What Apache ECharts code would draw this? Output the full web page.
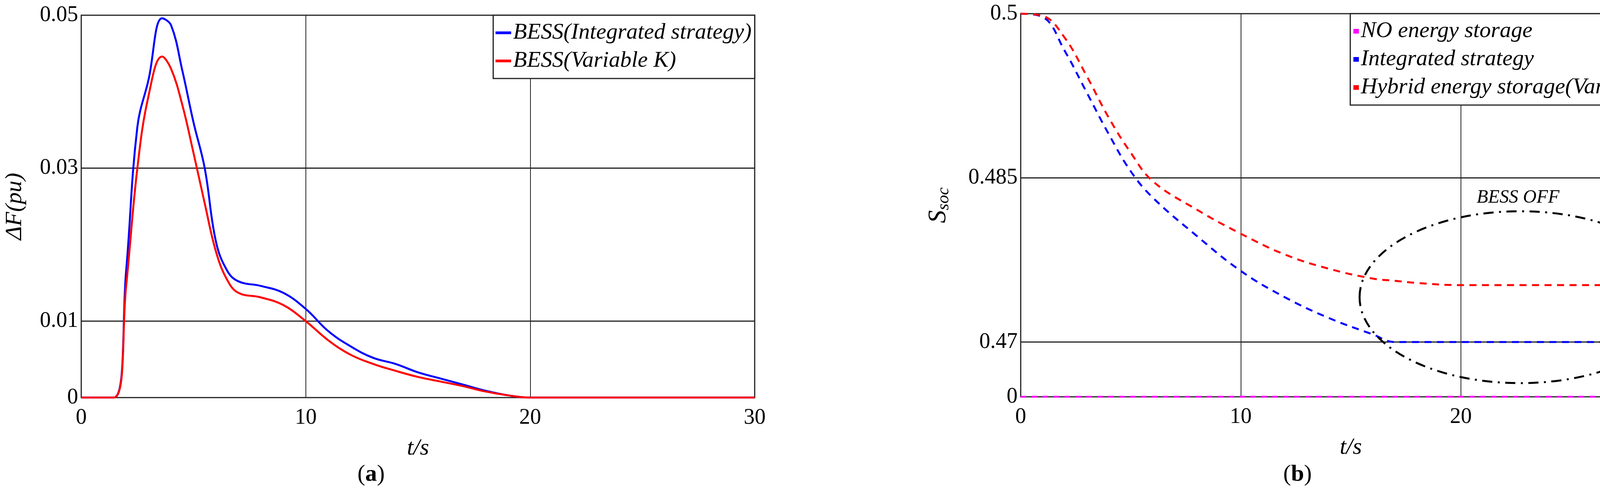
<!DOCTYPE html>
<html>
<head>
<meta charset="utf-8">
<title>BESS</title>
<script src="https://cdn.jsdelivr.net/npm/echarts@6/dist/echarts.min.js"></script>
<style>html,body{margin:0;background:#fff}#main{width:4336px;height:1270px}</style>
</head>
<body>
<div id="main"></div>
<script>
// panel (a): frequency deviation
var tA = [0, 1.45, 2, 2.5, 3, 3.6, 4, 4.5, 5, 5.5, 6, 6.5, 7, 8, 9, 10, 11, 12, 13, 14, 15, 16, 17, 18, 19, 20, 30];
var blueA = [0, 0, 0.0166, 0.0354, 0.0416, 0.0496, 0.0487, 0.0428, 0.036, 0.030, 0.0204, 0.0166, 0.0152, 0.0146, 0.0137, 0.0116, 0.0087, 0.0067, 0.0052, 0.0044, 0.0033, 0.0025, 0.0017, 0.0009, 0.0003, 0, 0];
var redA = [0, 0, 0.0146, 0.030, 0.0395, 0.0446, 0.0430, 0.0383, 0.032, 0.0254, 0.0191, 0.0154, 0.0137, 0.0131, 0.0121, 0.0100, 0.0075, 0.0056, 0.0044, 0.0035, 0.0027, 0.0021, 0.0015, 0.0008, 0.0003, 0, 0];
var yTicksA = [0, 0.01, 0.03, 0.05];
var gridA = [0.01, 0.03];

// panel (b): state of charge
var tB = [0, 1, 2, 3, 4, 5, 6, 8, 10, 12, 14, 16, 17, 18, 20, 30];
var blueB = [0.5, 0.4997, 0.4966, 0.4928, 0.489, 0.4856, 0.4832, 0.4797, 0.4765, 0.4741, 0.4722, 0.4707, 0.47, 0.47, 0.47, 0.47];
var redB = [0.5, 0.4998, 0.4978, 0.4943, 0.4905, 0.4873, 0.4847, 0.4821, 0.4799, 0.478, 0.4767, 0.4758, 0.4756, 0.4754, 0.4752, 0.4752];
var noStorB = [0, 0, 0, 0, 0, 0, 0, 0, 0, 0, 0, 0, 0, 0, 0, 0];
var yTicksB = [0.465, 0.47, 0.485, 0.5];
var gridB = [0.47, 0.485];
var zeroPosB = 0.465; // broken axis: "0" is drawn here
var ellipseB = [22.7, 0.4741, 7.3, 0.00785]; // cx, cy, rx, ry
var noteB = [22.6, 0.4832, 'BESS OFF'];

function pairs(xs, ys, map) {
  return xs.map(function (x, i) { return [x, map ? map(ys[i]) : ys[i]]; });
}
var serif = 'Liberation Serif';

// horizontal grid lines drawn through the axis scale
function gridSeries(idx, vals) {
  return {
    type: 'custom', xAxisIndex: idx, yAxisIndex: idx, silent: true, z: 1,
    data: vals.map(function (v) { return [0, v]; }),
    renderItem: function (params, api) {
      var a = api.coord([0, api.value(1)]);
      var b = api.coord([30, api.value(1)]);
      return { type: 'line', shape: { x1: a[0], y1: a[1], x2: b[0], y2: b[1] },
        style: { stroke: '#222', lineWidth: 3 } };
    }
  };
}

var chart = echarts.init(document.getElementById('main'));
var xAxisBase = {
  type: 'value', min: 0, max: 30, interval: 10,
  axisLine: { show: false }, axisTick: { show: false },
  axisLabel: { fontFamily: serif, fontSize: 56, color: '#000', margin: 24 },
  splitLine: { show: true, lineStyle: { color: '#222', width: 2 } },
  name: 't/s', nameLocation: 'middle', nameGap: 100,
  nameTextStyle: { fontFamily: serif, fontStyle: 'italic', fontSize: 60, color: '#000' }
};
var legendText = { fontFamily: serif, fontStyle: 'italic', fontSize: 58, color: '#000' };
chart.setOption({
  animation: false,
  backgroundColor: '#fff',
  grid: [
    { left: 208, right: 2404, top: 39, bottom: 252, show: true, borderColor: '#222', borderWidth: 3 },
    { left: 2613, right: 33, top: 35, bottom: 254, show: true, borderColor: '#222', borderWidth: 3 }
  ],
  xAxis: [
    Object.assign({ gridIndex: 0 }, xAxisBase),
    Object.assign({ gridIndex: 1 }, xAxisBase)
  ],
  yAxis: [
    {
      gridIndex: 0, type: 'value', min: 0, max: 0.05,
      axisLine: { show: false }, axisTick: { show: false }, splitLine: { show: false },
      axisLabel: { customValues: yTicksA, fontFamily: serif, fontSize: 56, color: '#000', margin: 8 },
      name: 'ΔF(pu)', nameLocation: 'middle', nameGap: 140,
      nameTextStyle: { fontFamily: serif, fontStyle: 'italic', fontSize: 60, color: '#000' }
    },
    {
      gridIndex: 1, type: 'value', min: 0.465, max: 0.5,
      axisLine: { show: false }, axisTick: { show: false }, splitLine: { show: false },
      axisLabel: {
        customValues: yTicksB, fontFamily: serif, fontSize: 56, color: '#000', margin: 8,
        formatter: function (v) { return v < 0.466 ? '0' : String(v); }
      },
      name: '{s|S}{sub|soc}', nameLocation: 'middle', nameGap: 175,
      nameTextStyle: {
        rich: {
          s: { fontFamily: serif, fontStyle: 'italic', fontSize: 66, color: '#000' },
          sub: { fontFamily: serif, fontStyle: 'italic', fontSize: 44, color: '#000', padding: [26, 0, 0, 0] }
        }
      }
    }
  ],
  legend: [
    {
      data: ['BESS(Integrated strategy)', 'BESS(Variable K)'],
      right: 2404, top: 39, orient: 'vertical', itemGap: 14,
      padding: [16, 8, 16, 6],
      backgroundColor: '#fff', borderColor: '#222', borderWidth: 3,
      icon: 'rect', itemWidth: 40, itemHeight: 7,
      textStyle: legendText
    },
    {
      data: ['NO energy storage', 'Integrated strategy', 'Hybrid energy storage(Variable K)'],
      right: 33, top: 35, orient: 'vertical', itemGap: 14,
      padding: [16, 8, 16, 8],
      backgroundColor: '#fff', borderColor: '#222', borderWidth: 3,
      icon: 'rect', itemWidth: 14, itemHeight: 12,
      textStyle: legendText
    }
  ],
  graphic: [
    { type: 'text', left: 915, top: 1185, style: { text: '({b|a})', fontFamily: serif, fontSize: 60, fill: '#000',
      rich: { b: { fontFamily: serif, fontWeight: 'bold', fontSize: 60 } } } },
    { type: 'text', left: 3285, top: 1185, style: { text: '({b|b})', fontFamily: serif, fontSize: 60, fill: '#000',
      rich: { b: { fontFamily: serif, fontWeight: 'bold', fontSize: 60 } } } }
  ],
  series: [
    gridSeries(0, gridA),
    gridSeries(1, gridB),
    {
      name: 'BESS(Integrated strategy)', type: 'line', xAxisIndex: 0, yAxisIndex: 0,
      data: pairs(tA, blueA), smooth: 0.4, showSymbol: false, color: '#0000ff',
      lineStyle: { width: 5 }, z: 3
    },
    {
      name: 'BESS(Variable K)', type: 'line', xAxisIndex: 0, yAxisIndex: 0,
      data: pairs(tA, redA), smooth: 0.4, showSymbol: false, color: '#ff0000',
      lineStyle: { width: 5 }, z: 4
    },
    {
      name: 'NO energy storage', type: 'line', xAxisIndex: 1, yAxisIndex: 1,
      data: pairs(tB, noStorB, function (v) { return v === 0 ? zeroPosB : v; }),
      showSymbol: false, color: '#ff00ff', lineStyle: { width: 5, type: [14, 14] }, z: 3
    },
    {
      name: 'Integrated strategy', type: 'line', xAxisIndex: 1, yAxisIndex: 1,
      data: pairs(tB, blueB), smooth: 0.4, showSymbol: false, color: '#0000ff',
      lineStyle: { width: 5, type: [18, 14] }, z: 4
    },
    {
      name: 'Hybrid energy storage(Variable K)', type: 'line', xAxisIndex: 1, yAxisIndex: 1,
      data: pairs(tB, redB), smooth: 0.4, showSymbol: false, color: '#ff0000',
      lineStyle: { width: 5, type: [18, 14] }, z: 4
    },
    {
      type: 'custom', xAxisIndex: 1, yAxisIndex: 1, silent: true, z: 5,
      data: [ellipseB],
      renderItem: function (params, api) {
        var c = api.coord([api.value(0), api.value(1)]);
        var s = api.size([api.value(2), api.value(3)]);
        return {
          type: 'ellipse',
          shape: { cx: c[0], cy: c[1], rx: s[0], ry: s[1] },
          style: { fill: 'none', stroke: '#000', lineWidth: 5, lineDash: [26, 14, 5, 14] }
        };
      }
    },
    {
      type: 'custom', xAxisIndex: 1, yAxisIndex: 1, silent: true, z: 5,
      data: [noteB],
      renderItem: function (params, api) {
        var c = api.coord([api.value(0), api.value(1)]);
        return {
          type: 'text', x: c[0], y: c[1],
          style: { text: noteB[2], fontFamily: serif, fontStyle: 'italic', fontSize: 48, fill: '#000',
            align: 'center', verticalAlign: 'middle' }
        };
      }
    }
  ]
});
</script>
</body>
</html>
